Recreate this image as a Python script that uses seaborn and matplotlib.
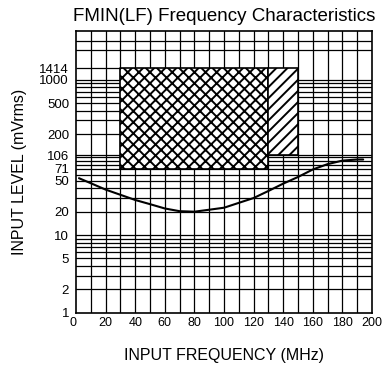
import matplotlib
matplotlib.use("Agg")
import matplotlib.pyplot as plt
import seaborn as sns
import numpy as np
import pandas as pd

# ---- data ----
freq_mhz = [2, 10, 20, 30, 40, 50, 60, 70, 80, 90, 100, 110, 120, 130, 140, 150, 160, 170, 180, 190, 194]
level_mv = [54, 46.5, 38.5, 33, 28.3, 25, 22, 20.3, 20, 21.2, 22.5, 26, 30, 37, 46, 56, 70, 82, 91, 94, 94]

cross_freq = [30, 130]
cross_level = [71, 1414]
single_freq = [130, 150]
single_level = [106, 1414]

x_ticks = [0, 20, 40, 60, 80, 100, 120, 140, 160, 180, 200]
y_ticks = [1, 2, 5, 10, 20, 50, 71, 106, 200, 500, 1000, 1414]
y_tick_labels = ["1", "2", "5", "10", "20", "50", "71", "106", "200", "500", "1000", "1414"]
x_grid = list(range(10, 200, 10))
y_grid = [2, 3, 4, 5, 6, 7, 8, 9, 10, 20, 30, 40, 50, 60, 70, 80, 90, 100, 106,
          200, 300, 400, 500, 600, 700, 800, 900, 1000, 2450, 3200]

title = "FMIN(LF) Frequency Characteristics"
xlabel = "INPUT FREQUENCY (MHz)"
ylabel = "INPUT LEVEL (mVrms)"

sns.set_style("white")
plt.rcParams['font.family'] = ['Liberation Sans', 'DejaVu Sans']
plt.rcParams['text.color'] = 'black'
plt.rcParams['axes.labelcolor'] = 'black'
plt.rcParams['xtick.color'] = 'black'
plt.rcParams['ytick.color'] = 'black'
plt.rcParams['hatch.linewidth'] = 1.4
plt.rcParams['hatch.color'] = 'black'

fig = plt.figure(figsize=(3.82, 3.72), dpi=100)
ax = fig.add_axes([0.199, 0.1594, 0.775, 0.7573])

ax.set_yscale('log')
ax.set_xlim(0, 200)
ax.set_ylim(1, 4250)
ax.grid(False)

for xv in x_grid:
    ax.axvline(xv, color='black', linewidth=0.9, zorder=1)
for yv in y_grid:
    ax.axhline(yv, color='black', linewidth=0.9, zorder=1)

ax.set_xticks(x_ticks)
ax.set_xticklabels([str(v) for v in x_ticks])
ax.set_yticks(y_ticks)
ax.set_yticklabels(y_tick_labels)
ax.minorticks_off()
ax.tick_params(which='both', length=0)
ax.tick_params(axis='x', labelsize=9, pad=3, colors='black')
ax.tick_params(axis='y', labelsize=9.5, pad=5, colors='black')
lbls = ax.get_xticklabels()
lbls[0].set_horizontalalignment('right')

# hatched regions
ax.fill_between(cross_freq, cross_level[0], cross_level[1], facecolor='white',
                edgecolor='black', hatch='xxx', linewidth=1.2, zorder=3)
ax.fill_between(single_freq, single_level[0], single_level[1], facecolor='white',
                edgecolor='black', hatch='///', linewidth=1.2, zorder=3)
ax.hlines(cross_level[1], 0, cross_freq[0], color='black', linewidth=0.9, zorder=2)

df = pd.DataFrame({"freq": freq_mhz, "level": level_mv})
sns.lineplot(data=df, x="freq", y="level", ax=ax, color='black', linewidth=1.5, zorder=4)

for s in ax.spines.values():
    s.set_color('black')
    s.set_linewidth(1.2)

ax.set_title(title, fontsize=13.5, pad=7, color='black')
ax.set_xlabel(xlabel, fontsize=11.5, labelpad=14, color='black')
ax.set_ylabel(ylabel, fontsize=11.5, labelpad=9, color='black')

fig.savefig("out.png", dpi=100)
